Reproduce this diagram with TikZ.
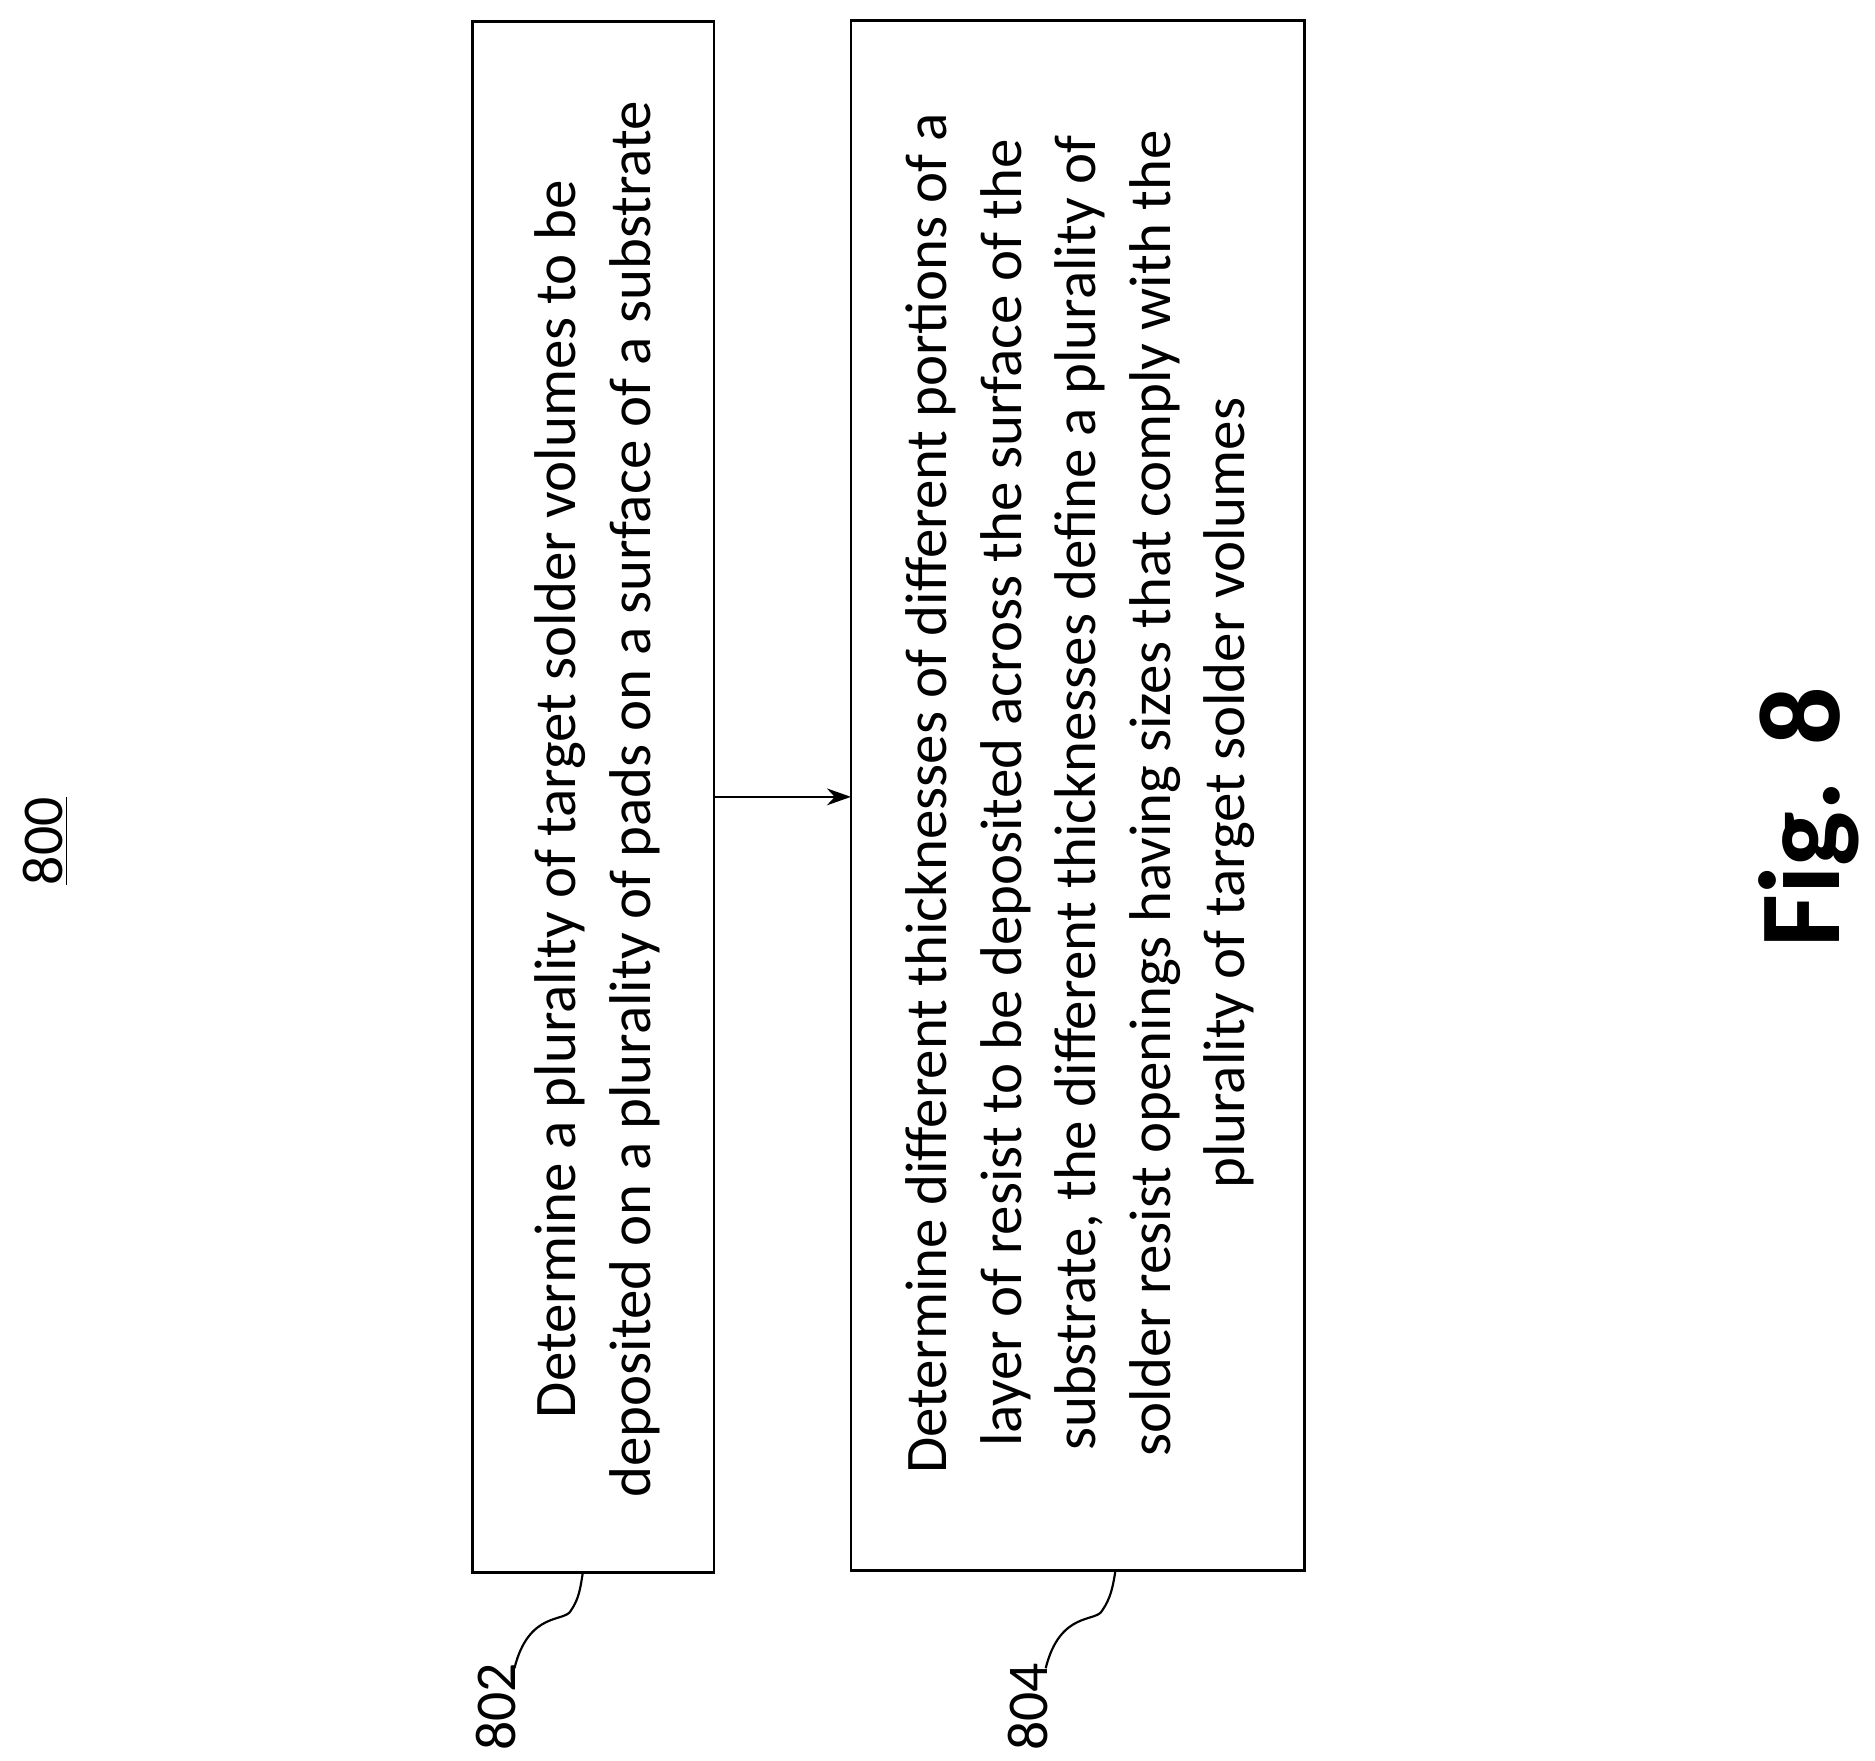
\documentclass[tikz,border=0pt]{standalone}
\usepackage{fontspec}
\usetikzlibrary{arrows.meta}
\setmainfont{Carlito}
\begin{document}
\begin{tikzpicture}[x=0.5pt,y=-0.5pt,
  box/.style={draw,line width=1.2pt},
  txt/.style={rotate=90,align=center,font=\fontsize{24.5}{31}\selectfont},
  lbl/.style={rotate=90,font=\fontsize{24}{28}\selectfont}]
\useasboundingbox (0,0) rectangle (1560,1465);
\draw[box] (393,18) rectangle (594,1308);
\draw[box] (708,17) rectangle (1085,1307);
\coordinate (b1r) at (594,663);
\coordinate (b2l) at (708,663);
\draw[-{Stealth[length=10pt,width=7pt]},line width=0.9pt] (b1r) -- (b2l);
\node[txt] (t1) at (497,665) {Determine a plurality of target solder volumes to be\\deposited on a plurality of pads on a surface of a substrate};
\node[txt] (t2) at (899,660) {Determine different thicknesses of different portions of a\\layer of resist to be deposited across the surface of the\\substrate, the different thicknesses define a plurality of\\solder resist openings having sizes that comply with the\\plurality of target solder volumes};
\node[lbl] (n800) at (38,700) {\underline{800}};
\node[rotate=90,font=\bfseries\fontsize{48}{54}\selectfont] (fig) at (1505,680) {Fig. 8};
\node[lbl] (n802) at (413,1420) {802};
\node[lbl] (n804) at (855,1420) {804};
\coordinate (c1) at (485,1308);
\coordinate (c2) at (928,1307);
\draw[line width=0.9pt] (428,1388) .. controls (440,1340) and (470,1350) .. (475,1340) .. controls (482,1330) and (483,1320) .. (c1);
\draw[line width=0.9pt] (870,1388) .. controls (882,1340) and (912,1350) .. (917,1340) .. controls (924,1330) and (926,1320) .. (c2);
\end{tikzpicture}
\end{document}
